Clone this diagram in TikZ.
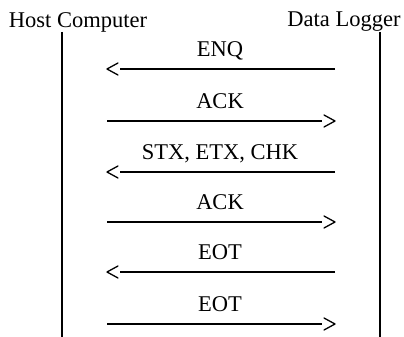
\documentclass[tikz,border=0pt]{standalone}
\usepackage{fontspec}
\setmainfont{Liberation Serif}
\begin{document}
\begin{tikzpicture}[x=1pt,y=-1pt,
  shaft/.style={line width=1.5pt,shorten >=13pt},
  chev/.style={line width=1.3pt,line join=round,line cap=round},
  lbl/.style={anchor=base,font=\fontsize{22.5}{25}\selectfont,inner sep=0pt},
  life/.style={line width=2pt}]
\useasboundingbox (0,0) rectangle (404,337);
% headers
\node[lbl] (host) at (78,27.5) {Host\ Computer};
\node[lbl] (logger) at (344,27) {Data Logger};
% lifelines
\coordinate (hT) at (61.5,32);  \coordinate (hB) at (61.5,337);
\coordinate (lT) at (380,32); \coordinate (lB) at (380,337);
\draw[life] (hT) -- (hB);
\draw[life] (lT) -- (lB);
% messages
\foreach \y/\t/\dir [count=\i] in {69/ENQ/l,121/ACK/r,172/{STX, ETX, CHK}/l,222/ACK/r,272/EOT/l,324/EOT/r}{
  \coordinate (L\i) at (107,\y);
  \coordinate (R\i) at (335,\y);
  \node[lbl] (m\i) at (220,\y-12.5) {\t};
  \if\dir l
    \draw[shaft] (R\i) -- (L\i);
    \draw[chev] ([xshift=11pt,yshift=6pt]L\i) -- (L\i) -- ([xshift=11pt,yshift=-6pt]L\i);
  \else
    \draw[shaft] (L\i) -- (R\i);
    \draw[chev] ([xshift=-11pt,yshift=6pt]R\i) -- (R\i) -- ([xshift=-11pt,yshift=-6pt]R\i);
  \fi
}
\end{tikzpicture}
\end{document}
